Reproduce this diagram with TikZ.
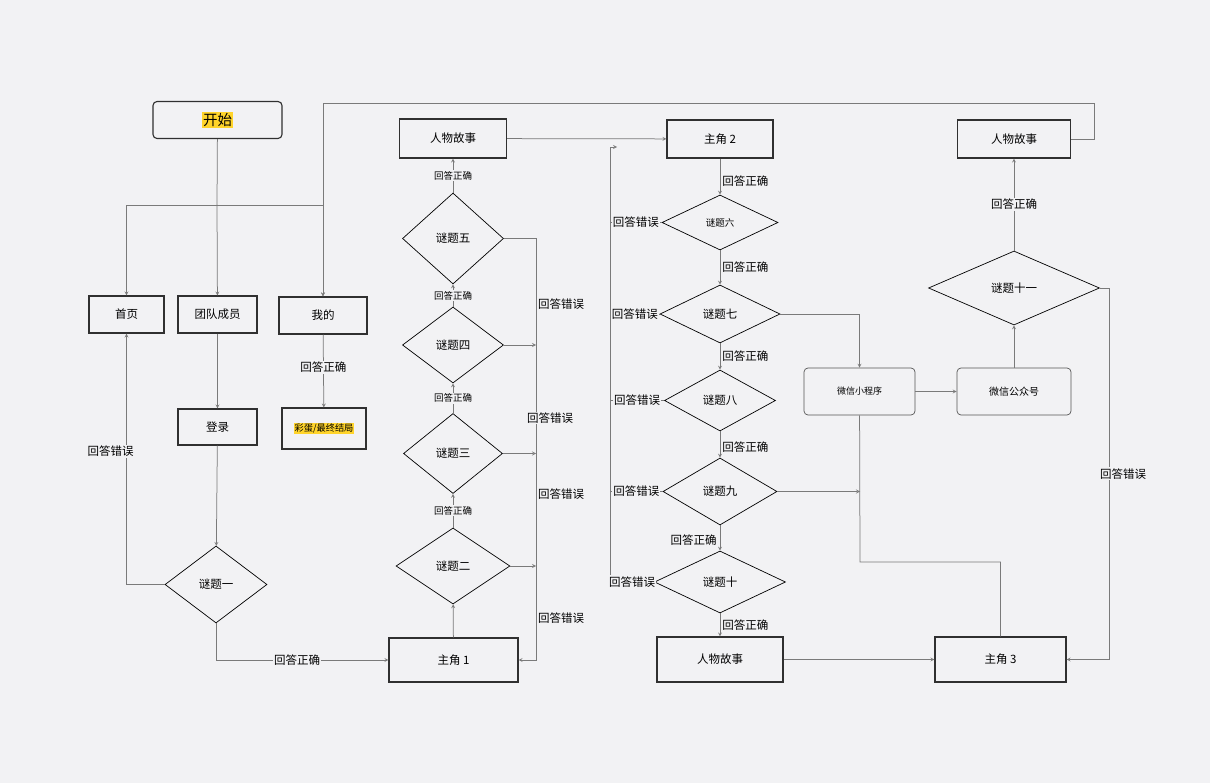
\documentclass[tikz,border=0pt]{standalone}
\usepackage{fontspec}
\usepackage{xcolor}
\usepackage{tikz}
\usetikzlibrary{calc,positioning,arrows,shapes}
\usetikzlibrary{shapes.geometric}

\newfontfamily\cjk{Noto Sans CJK SC}
\definecolor{bg}{HTML}{F2F2F4}
\definecolor{hl}{HTML}{FFD42A}
\definecolor{linec}{HTML}{7A7A7A}
\definecolor{edgec}{HTML}{303030}
\setlength{\fboxsep}{1pt}

\begin{document}
\begin{tikzpicture}[x=1pt,y=-1pt,>=stealth,
		box/.style={draw=edgec,line width=1.1pt,fill=bg,inner sep=0pt,font=\cjk\fontsize{11.5}{13}\selectfont},
		soft/.style={box,rounded corners=4pt,line width=0.7pt,draw=linec!70!black},
		puzzle/.style={diamond,draw=black,line width=0.7pt,fill=bg,inner sep=0pt,font=\cjk\fontsize{11.5}{13}\selectfont},
		conn/.style={draw=linec,line width=0.75pt},
		lbl/.style={fill=bg,inner sep=1pt,font=\cjk\fontsize{11.5}{13}\selectfont},
		small/.style={lbl,font=\cjk\fontsize{9.5}{11}\selectfont}]
		\fill[bg] (0,0) rectangle (1210,783);

		\node[box,rounded corners=4pt,minimum width=129pt,minimum height=37pt,font=\cjk\fontsize{14.5}{16}\selectfont] (start) at (217.5,120) {\colorbox{hl}{开始}};
		\node[box,minimum width=75pt,minimum height=37pt] (home) at (126.5,314.5) {首页};
		\node[box,minimum width=79pt,minimum height=37pt] (team) at (217.5,314.5) {团队成员};
		\node[box,minimum width=88pt,minimum height=37pt] (mine) at (323,315.5) {我的};
		\node[box,minimum width=79pt,minimum height=36pt] (login) at (217.5,427) {登录};
		\node[box,minimum width=84pt,minimum height=41pt,font=\cjk\fontsize{9.2}{11}\selectfont] (egg) at (324,428.5) {\colorbox{hl}{彩蛋/最终结局}};
		\node[puzzle,minimum width=102pt,minimum height=77pt] (q1) at (216,584.5) {谜题一};

		\node[box,minimum width=129pt,minimum height=44pt] (lead1) at (453.5,660) {主角 1};
		\node[puzzle,minimum width=114pt,minimum height=76pt] (q2) at (453,566) {谜题二};
		\node[puzzle,minimum width=99pt,minimum height=80pt] (q3) at (453,453.5) {谜题三};
		\node[puzzle,minimum width=101pt,minimum height=76pt] (q4) at (453,345) {谜题四};
		\node[puzzle,minimum width=101pt,minimum height=91pt] (q5) at (453,238.5) {谜题五};
		\node[box,minimum width=107pt,minimum height=39pt] (story1) at (453,138.5) {人物故事};

		\node[box,minimum width=106pt,minimum height=38pt] (lead2) at (720,139) {主角 2};
		\node[puzzle,minimum width=116pt,minimum height=55pt,font=\cjk\fontsize{9.5}{11}\selectfont] (q6) at (720,222.5) {谜题六};
		\node[puzzle,minimum width=120pt,minimum height=58pt] (q7) at (720,314) {谜题七};
		\node[puzzle,minimum width=111pt,minimum height=61pt] (q8) at (720,400.5) {谜题八};
		\node[puzzle,minimum width=114pt,minimum height=67pt] (q9) at (720,491.5) {谜题九};
		\node[puzzle,minimum width=131pt,minimum height=62pt] (q10) at (720,582) {谜题十};
		\node[box,minimum width=126pt,minimum height=45pt] (story2) at (720,659.5) {人物故事};

		\node[soft,minimum width=111pt,minimum height=47pt,font=\cjk\fontsize{9}{11}\selectfont] (mini) at (859.5,391.5) {微信小程序};
		\node[soft,minimum width=114pt,minimum height=47pt,font=\cjk\fontsize{10}{12}\selectfont] (official) at (1014,391.5) {微信公众号};
		\node[puzzle,minimum width=171pt,minimum height=74pt] (q11) at (1014,288) {谜题十一};
		\node[box,minimum width=113pt,minimum height=38pt] (story3) at (1014,139) {人物故事};
		\node[box,minimum width=131pt,minimum height=45pt] (lead3) at (1000.5,659.5) {主角 3};

		\coordinate (split) at (217,205);
		\coordinate (loopr) at (1094,103);
		\coordinate (rtop) at (536,238.5);
		\coordinate (lbot) at (610,575);
		\coordinate (ltop) at (610,147);
		\coordinate (lend) at (617,147);
		\coordinate (rr) at (1109,288);
		\coordinate (mbend) at (860,562);

		\draw[conn] (start) -- (split);
		\draw[conn,->] (split) -- (team);
		\draw[conn,->] (split) -| (home);
		\draw[conn,->] (split) -| (mine);
		\draw[conn,->] (story3.east) -| (loopr) -| (mine);
		\draw[conn,->] (mine) -- node[lbl,pos=0.45] {回答正确} (egg);
		\draw[conn,->] (team) -- (login);
		\draw[conn,->] (login) -- (q1);
		\draw[conn,->] (q1.west) -| node[lbl,pos=0.765,xshift=-16pt] {回答错误} (home);
		\draw[conn,->] (q1.south) |- node[lbl,pos=0.735] {回答正确} (lead1.west);

		\draw[conn,->] (lead1) -- (q2);
		\draw[conn,->] (q2) -- node[small] {回答正确} (q3);
		\draw[conn,->] (q3) -- node[small] {回答正确} (q4);
		\draw[conn,->] (q4) -- node[small] {回答正确} (q5);
		\draw[conn,->] (q5) -- node[small] {回答正确} (story1);
		\draw[conn,->] (q5.east) -- (rtop) |- (lead1.east);
		\draw[conn,->] (q4.east) -- (q4.east -| rtop);
		\draw[conn,->] (q3.east) -- (q3.east -| rtop);
		\draw[conn,->] (q2.east) -- (q2.east -| rtop);
		\node[lbl] (w5) at (561,304) {回答错误};
		\node[lbl] (w4) at (550,418) {回答错误};
		\node[lbl] (w3) at (561,494) {回答错误};
		\node[lbl] (w2) at (561,618) {回答错误};

		\draw[conn,->] (story1) -- (lead2);
		\draw[conn,->] (lead2) -- node[lbl,pos=0.62,anchor=west,xshift=1pt] {回答正确} (q6);
		\draw[conn,->] (q6) -- node[lbl,anchor=west,xshift=1pt] {回答正确} (q7);
		\draw[conn,->] (q7) -- node[lbl,anchor=west,xshift=1pt] {回答正确} (q8);
		\draw[conn,->] (q8) -- node[lbl,pos=0.6,anchor=west,xshift=1pt] {回答正确} (q9);
		\draw[conn,->] (q9) -- node[lbl,pos=0.6,anchor=east,xshift=-2pt] {回答正确} (q10);
		\draw[conn,->] (q10) -- node[lbl,anchor=west,xshift=1pt] {回答正确} (story2);

		\draw[conn,->] (lbot) -- (ltop) -- (lend);
		\draw[conn] (q6.west) -- node[lbl] {回答错误} (q6.west -| ltop);
		\draw[conn] (q7.west) -- node[lbl] {回答错误} (q7.west -| ltop);
		\draw[conn] (q8.west) -- node[lbl] {回答错误} (q8.west -| ltop);
		\draw[conn] (q9.west) -- node[lbl] {回答错误} (q9.west -| ltop);
		\draw[conn] (q10.west) -- node[lbl] {回答错误} (q10.west -| ltop);

		\draw[conn,->] (q7.east) -| (mini);
		\draw[conn,->] (mini) -- (official);
		\draw[conn,->] (official) -- (q11);
		\draw[conn,->] (q11) -- node[lbl] {回答正确} (story3);
		\draw[conn,->] (q11.east) -- (rr) |- node[lbl,pos=0.25,xshift=14pt] {回答错误} (lead3.east);
		\draw[conn] (mini) -- (mbend) -| (lead3);
		\draw[conn,->] (q9.east) -- (q9.east -| mbend);
		\draw[conn,->] (story2) -- (lead3);
	\end{tikzpicture}
\end{document}
